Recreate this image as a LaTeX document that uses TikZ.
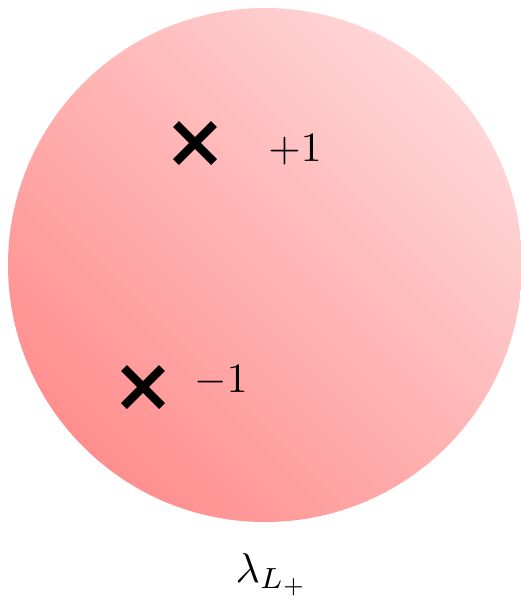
\documentclass[tikz,border=0pt]{standalone}
\usepackage{amsmath,amssymb}
\usetikzlibrary{positioning,calc}

\begin{document}
\begin{tikzpicture}[x=0.24pt, y=-0.24pt,
  pole/.style={line width=2pt},
  lbl/.style={inner sep=0pt}]
\useasboundingbox (0,0) rectangle (520,599);
\shade[top color=red!16, bottom color=red!44, shading angle=-45] (265,265) circle[radius=257];
% poles
\coordinate (p) at (195,143);
\coordinate (m) at (143,387);
\foreach \c in {p,m}
  \draw[pole] ($(\c)+(-19,-19)$) -- ($(\c)+(19,19)$) ($(\c)+(-19,19)$) -- ($(\c)+(19,-19)$);
\node[lbl] (plab) at (295,150) {$+1$};
\node[lbl] (mlab) at (221,381) {$-1$};
\node[lbl] (lam) at (272,575) {$\lambda_{L_+}$};
\end{tikzpicture}
\end{document}
